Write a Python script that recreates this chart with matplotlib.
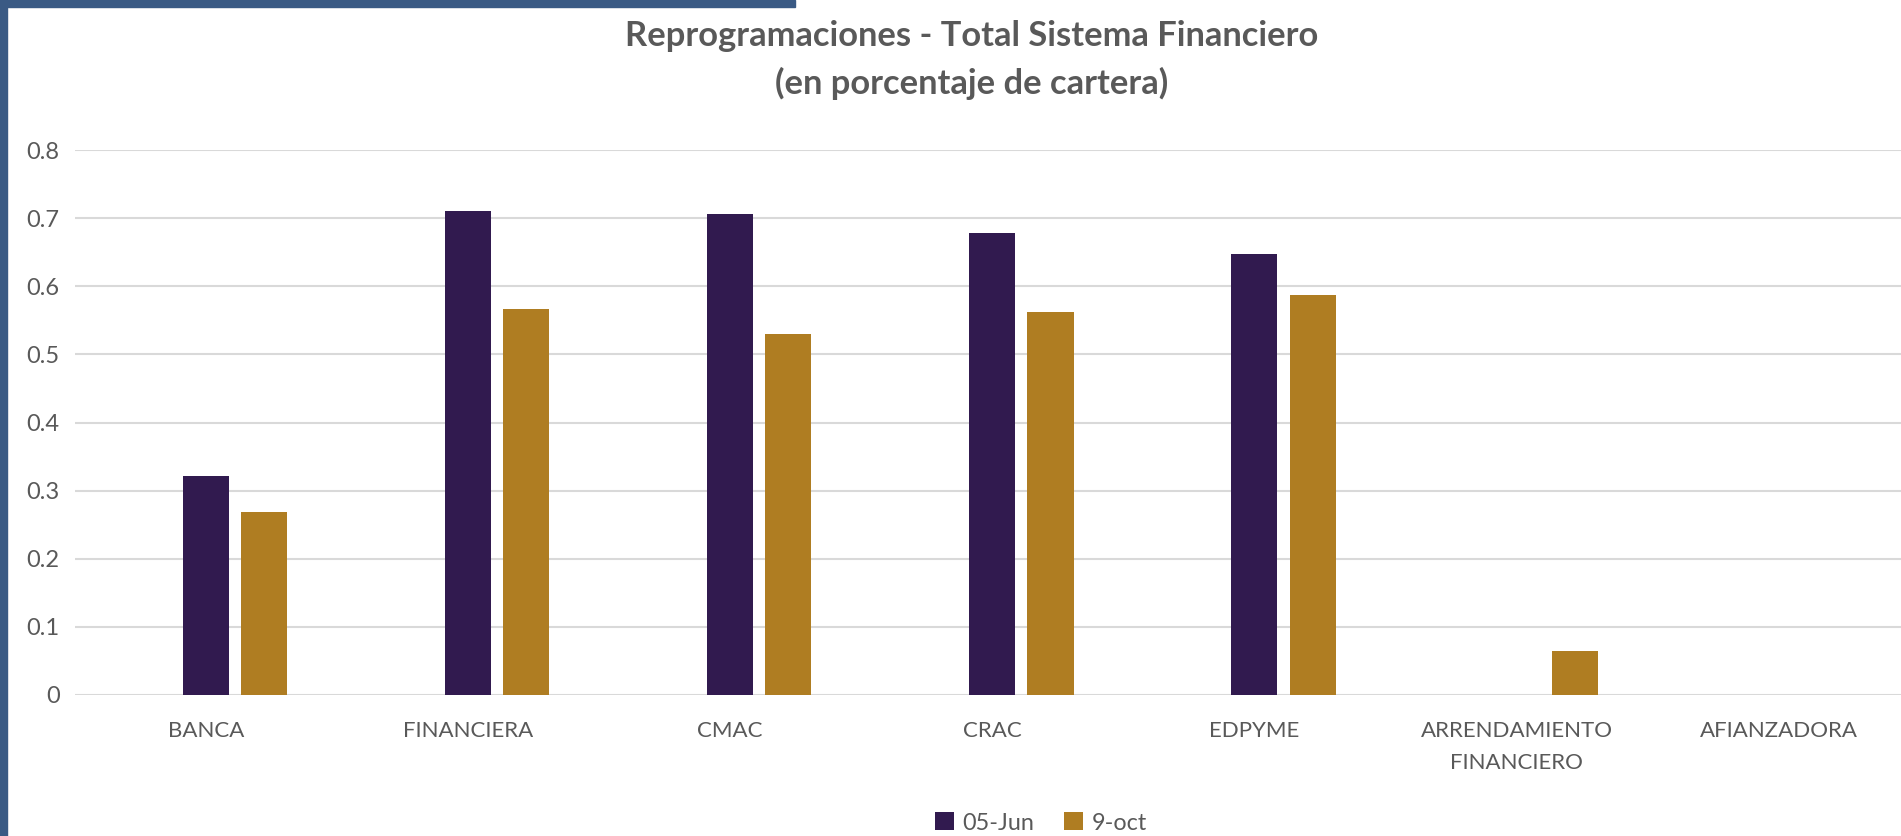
import matplotlib.pyplot as plt
from matplotlib.patches import Rectangle
import numpy as np

# Datos del grafico
categorias = ['BANCA', 'FINANCIERA', 'CMAC', 'CRAC', 'EDPYME',
              'ARRENDAMIENTO\nFINANCIERO', 'AFIANZADORA']
junio = [0.322, 0.711, 0.706, 0.679, 0.647, 0.0, 0.0]
octubre = [0.269, 0.567, 0.530, 0.563, 0.587, 0.064, 0.0]
series = ['05-Jun', '9-oct']
yticks = [0, 0.1, 0.2, 0.3, 0.4, 0.5, 0.6, 0.7, 0.8]

morado = '#311A4F'
dorado = '#AF7D22'
gris = '#595959'

plt.rcParams['font.family'] = ['Lato', 'DejaVu Sans']

fig = plt.figure(figsize=(19.01, 8.36), dpi=100)
ax = fig.add_axes([75 / 1901, 141.3 / 836, 1 - 75 / 1901, (694.7 - 150.3) / 836])

x = np.arange(len(categorias))
ancho = 0.176
ax.bar(x, junio, ancho, color=morado, label=series[0], zorder=3)
ax.bar(x + 0.222, octubre, ancho, color=dorado, label=series[1], zorder=3)

ax.set_xlim(-0.5, 6.467)
ax.set_ylim(0, 0.8)
ax.set_yticks(yticks)
ax.set_yticklabels([f'{v:g}' for v in yticks])
ax.set_xticks(x)
ax.set_xticklabels(categorias, linespacing=1.75)

ax.grid(axis='y', color='#D9D9D9', linewidth=1.5, zorder=0)
for s in ax.spines.values():
    s.set_visible(False)
ax.tick_params(axis='both', length=0, colors=gris)
ax.tick_params(axis='y', pad=11, labelsize=17)
ax.tick_params(axis='x', pad=19, labelsize=16)

fig.text(972 / 1901, 1 - 36 / 836, 'Reprogramaciones - Total Sistema Financiero',
         ha='center', va='center', fontsize=24.8, fontweight='bold', color=gris)
fig.text(972 / 1901, 1 - 83 / 836, '(en porcentaje de cartera)',
         ha='center', va='center', fontsize=24.8, fontweight='bold', color=gris)

ax.legend(loc='center', bbox_to_anchor=(1041 / 1901, 1 - 823 / 836),
          bbox_transform=fig.transFigure, ncol=2, frameon=False,
          fontsize=16.8, labelcolor=gris, handlelength=0.8, handleheight=0.8,
          handletextpad=0.35, columnspacing=1.3)

# Borde azul del marco
fig.patches.append(Rectangle((0, 0), 7 / 1901, 1, transform=fig.transFigure,
                             color='#3A5A84', zorder=10))
fig.patches.append(Rectangle((0, 1 - 7 / 836), 795 / 1901, 7 / 836,
                             transform=fig.transFigure, color='#3A5A84', zorder=10))

fig.savefig('out.png', dpi=100)
